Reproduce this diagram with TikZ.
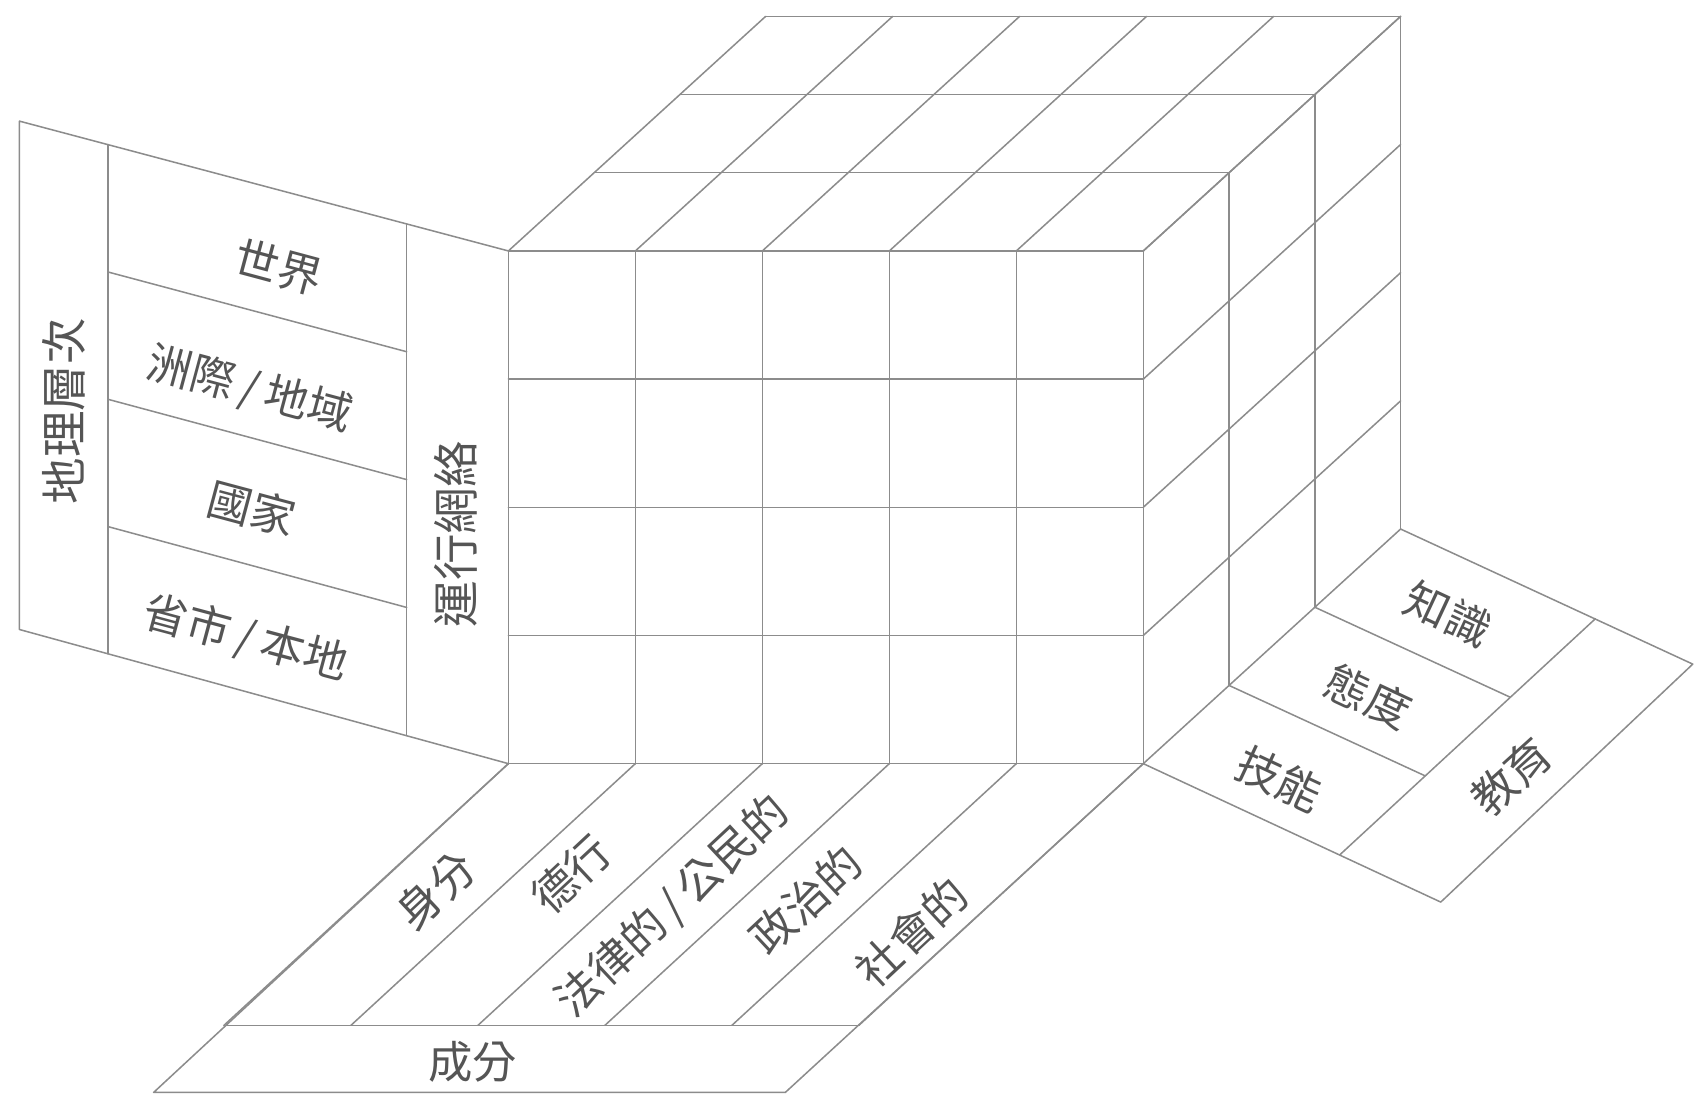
\documentclass[tikz,border=0pt]{standalone}
\usepackage{fontspec}
\usetikzlibrary{calc}
\newfontfamily\cjk{Noto Sans CJK TC}
\definecolor{linegray}{HTML}{8C8C8C}
\definecolor{txtgray}{HTML}{555555}
\newcommand{\myslash}{\kern7pt/\kern7pt}
\begin{document}
\begin{tikzpicture}[x=1pt,y=-1pt,
  ln/.style={draw=linegray, line width=1.4pt, line join=round, line cap=round},
  lbl/.style={text=txtgray, font=\cjk\fontsize{41}{44}\selectfont, inner sep=0pt},
  vlbl/.style={lbl, font=\cjk\fontsize{43}{46}\selectfont, rotate=90}]
\useasboundingbox (0,0) rectangle (1568,1014);
\fill[white] (0,0) rectangle (1568,1014);
% front face grid
\foreach \i in {0,...,5} { \draw[ln] ({470+117.4*\i},232) -- ({470+117.4*\i},706); }
\foreach \j in {0,...,4} { \draw[ln] (470,{232+118.5*\j}) -- (1057,{232+118.5*\j}); }
% top face
\foreach \i in {0,...,5} { \draw[ln] ({470+117.4*\i},232) -- ++(237.9,-216.9); }
\foreach \k in {1,2,3} { \draw[ln] ({470+79.3*\k},{232-72.3*\k}) -- ++(587,0); }
% right face
\foreach \k in {1,2,3} { \draw[ln] ({1057+79.3*\k},{232-72.3*\k}) -- ++(0,474); }
\foreach \j in {0,...,4} { \draw[ln] (1057,{232+118.5*\j}) -- ++(237.9,-216.9); }
% left panel
\draw[ln] (470,232) -- (18,112) -- (18,582) -- (470,706);
\draw[ln] (100,133.8) -- (100,604.5);
\draw[ln] (376,207) -- (376,680);
\foreach \j in {1,2,3} { \draw[ln] (100,{133.8+117.7*\j}) -- (376,{207+118.2*\j}); }
% bottom floor
\foreach \i in {0,...,5} { \draw[ln] ({470+117.4*\i},706) -- ++(-263,242); }
\draw[ln] (470,706) -- (142,1010) -- (726,1010) -- (1057,706);
\draw[ln] (207,948) -- (794,948);
% right floor
\coordinate (r0) at (1057,706);
\coordinate (r3) at (1294.9,489.1);
\coordinate (ro3) at (1565,614);
\coordinate (ro0) at (1332,834);
\coordinate (rd3) at (1475,572);
\coordinate (rd0) at (1239,790);
\draw[ln] (r0) -- (ro0) -- (ro3) -- (r3);
\draw[ln] (rd0) -- (rd3);
\draw[ln] (1136.3,633.7) -- ($(rd0)!0.3333!(rd3)$);
\draw[ln] (1215.6,561.4) -- ($(rd0)!0.6667!(rd3)$);
% labels
\node[vlbl] (geo) at (59,380) {地理層次};
\node[vlbl] (net) at (421,494) {運行網絡};
\node[lbl, rotate=-15] (world) at (258,247) {世界};
\node[lbl, rotate=-15] (cont) at (231,360) {洲際\myslash 地域};
\node[lbl, rotate=-15] (nation) at (233,470) {國家};
\node[lbl, rotate=-15] (local) at (227,590) {省市\myslash 本地};
\node[lbl, rotate=43] (id) at (403,823) {身分};
\node[lbl, rotate=43] (virtue) at (528,808) {德行};
\node[lbl, rotate=43] (legal) at (622,838) {法律的\myslash 公民的};
\node[lbl, rotate=43] (pol) at (745,832) {政治的};
\node[lbl, rotate=43] (soc) at (843,862) {社會的};
\node[lbl] (comp) at (437,982) {成分};
\node[lbl, rotate=-25] (know) at (1339,568) {知識};
\node[lbl, rotate=-25] (att) at (1265,644) {態度};
\node[lbl, rotate=-25] (skill) at (1183,720) {技能};
\node[lbl, rotate=42] (edu) at (1397,718) {教育};
\end{tikzpicture}
\end{document}
